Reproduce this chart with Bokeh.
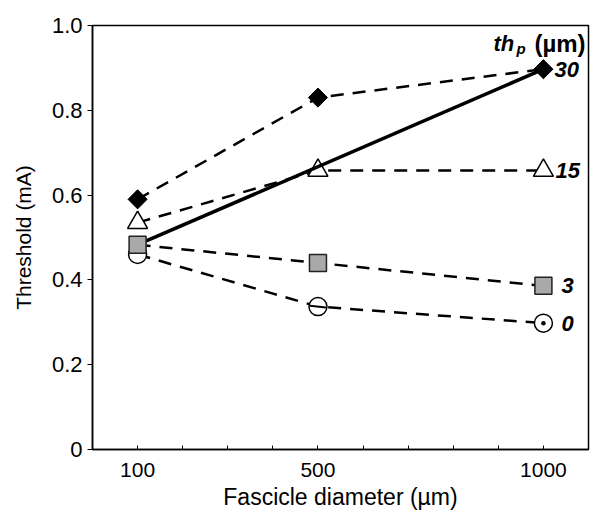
import math
from bokeh.plotting import figure
from bokeh.models import FixedTicker, PrintfTickFormatter, Label
from bokeh.embed import file_html
from bokeh.resources import INLINE

# ---- data ----
diameters = [100, 500, 1000]
th30 = [0.59, 0.83, 0.897]
th15 = [0.535, 0.658, 0.658]
th3 = [0.483, 0.44, 0.386]
th0 = [0.46, 0.337, 0.298]
solid_x = [100, 1000]
solid_y = [0.483, 0.897]
series_labels = ["30", "15", "3", "0"]
x_ticks = [100, 200, 300, 400, 500, 600, 700, 800, 900, 1000]
x_tick_labels = {100: "100", 500: "500", 1000: "1000"}
y_ticks = [0, 0.2, 0.4, 0.6, 0.8, 1.0]

FONT = "Liberation Sans"

p = figure(width=593, height=513, x_range=(0, 1100), y_range=(0, 1.0),
           output_backend="svg", toolbar_location=None,
           min_border_left=92, min_border_right=5, min_border_top=25,
           min_border_bottom=64)
p.xgrid.visible = False
p.ygrid.visible = False
p.outline_line_color = "black"
p.outline_line_width = 1.5
p.background_fill_color = "white"
p.border_fill_color = "white"

xa = p.xaxis[0]
xa.ticker = FixedTicker(ticks=x_ticks)
xa.major_label_overrides = {t: x_tick_labels.get(t, "") for t in x_ticks}
xa.major_tick_in = 4
xa.major_tick_out = 0
xa.minor_tick_line_color = None
xa.axis_line_width = 1.5
xa.major_tick_line_width = 1
xa.major_label_text_font = FONT
xa.major_label_text_font_size = "21px"
xa.major_label_text_color = "black"
xa.major_label_standoff = 13
xa.axis_label = "Fascicle diameter (µm)"
xa.axis_label_text_font = FONT
xa.axis_label_text_font_size = "23px"
xa.axis_label_text_font_style = "normal"
xa.axis_label_text_color = "black"
xa.axis_label_standoff = 4

ya = p.yaxis[0]
ya.ticker = FixedTicker(ticks=y_ticks)
ya.formatter = PrintfTickFormatter(format="%.1f")
ya.major_label_overrides = {0: "0"}
ya.major_tick_in = 0
ya.major_tick_out = 5
ya.minor_tick_line_color = None
ya.axis_line_width = 1.5
ya.major_label_text_font = FONT
ya.major_label_text_font_size = "22px"
ya.major_label_text_color = "black"
ya.major_label_standoff = 5
ya.axis_label = "Threshold (mA)"
ya.axis_label_text_font = FONT
ya.axis_label_text_font_size = "21px"
ya.axis_label_text_font_style = "normal"
ya.axis_label_text_color = "black"
ya.axis_label_standoff = 14

DASH = "13 9"
LW = 2.5
for ys in (th0, th3, th15, th30):
    p.line(diameters, ys, line_color="black", line_width=LW, line_dash=DASH)

# circles (thp = 0)
p.scatter(diameters, th0, marker=["circle", "circle", "circle_dot"], size=18,
          fill_color="white", line_color="black", line_width=1.5)
p.scatter(diameters[1:2], th0[1:2], marker="dash", size=16, angle=-0.12,
          line_color="black", line_width=2)
# triangles (thp = 15)
p.scatter(diameters, th15, marker="triangle", size=20,
          fill_color="white", line_color="black", line_width=1.5)
# solid line
p.line(solid_x, solid_y, line_color="black", line_width=3.5)
# squares (thp = 3)
p.scatter(diameters, th3, marker="square", size=17,
          fill_color="#a9a9a9", line_color="#222222", line_width=1.5)
# diamonds (thp = 30)
p.scatter(diameters, th30, marker="square", size=13.5, angle=math.pi / 4,
          fill_color="black", line_color="black", line_width=1)

# series labels at the right end
last_x = diameters[-1]
for lab, ys, off in zip(series_labels, (th30, th15, th3, th0), (11, 12, 18, 18)):
    p.add_layout(Label(x=last_x, y=ys[-1], text=lab, x_offset=off,
                       text_baseline="middle", text_align="left",
                       text_font=FONT, text_font_size="22px",
                       text_font_style="bold italic", text_color="black"))

# legend title "th_p (µm)"
p.add_layout(Label(x=last_x, y=0.958, text="th", x_offset=-50,
                   text_baseline="alphabetic", text_font=FONT, text_font_size="22px",
                   text_font_style="bold italic", text_color="black"))
p.add_layout(Label(x=last_x, y=0.958, text="p", x_offset=-27, y_offset=-5,
                   text_baseline="alphabetic", text_font=FONT, text_font_size="15px",
                   text_font_style="bold italic", text_color="black"))
p.add_layout(Label(x=last_x, y=0.958, text="(µm)", x_offset=-9,
                   text_baseline="alphabetic", text_font=FONT, text_font_size="24px",
                   text_font_style="bold", text_color="black"))

open("out.html", "w").write(file_html(p, INLINE))
